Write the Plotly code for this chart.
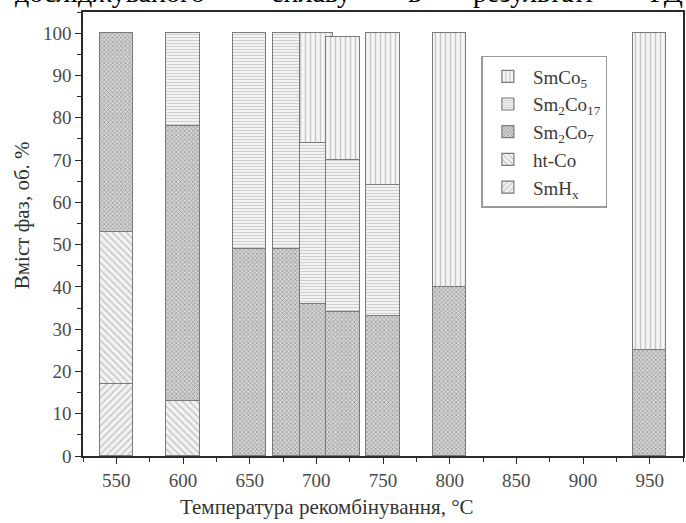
import plotly.graph_objects as go

# Recombination temperature of each sample, °C (bar positions)
temperatures = [550, 600, 650, 680, 700, 720, 750, 800, 950]

# Phase content, vol. % (None = phase absent)
smhx    = [17, None, None, None, None, None, None, None, None]
ht_co   = [36, 13, None, None, None, None, None, None, None]
sm2co7  = [47, 65, 49, 49, 36, 34, 33, 40, 25]
sm2co17 = [None, 22, 51, 51, 38, 36, 31, None, None]
smco5   = [None, None, None, None, 26, 29, 36, 60, 75]

phase_names = ["SmH<sub>x</sub>", "ht-Co", "Sm<sub>2</sub>Co<sub>7</sub>",
               "Sm<sub>2</sub>Co<sub>17</sub>", "SmCo<sub>5</sub>"]
phase_values = [smhx, ht_co, sm2co7, sm2co17, smco5]

# hatch style per phase: (shape, fg colour, bg colour, tile size, solidity)
hatches = [
    ("/", "#8a8a8a", "#f2f2f2", 5, 0.25),
    ("\\", "#8a8a8a", "#f2f2f2", 5, 0.25),
    ("x", "#6a6a6a", "#d4d4d4", 3, 0.45),
    ("-", "#aaaaaa", "#f2f2f2", 3, 0.35),
    ("|", "#9a9a9a", "#f6f6f6", 5, 0.3),
]

x_title = "Температура рекомбінування, °C"
y_title = "Вміст фаз, об. %"

# words of the body text running above the figure
header_words = ["досліджуваного", "сплаву", "в", "результаті", "ГД"]
header_px = [110, 312, 416, 535, 668]

SERIF = "Liberation Serif"
L, R, T, B, W, H = 83, 1, 12, 67, 686, 523
PW, PH = W - L - R, H - T - B


def paper_x(px):
    return (px - L) / PW


def paper_y(py):
    return (H - B - py) / PH


fig = go.Figure()
for name, vals, (shape, fg, bg, size, sol) in zip(phase_names, phase_values, hatches):
    fig.add_trace(go.Bar(
        x=temperatures, y=vals, name=name, width=25,
        marker=dict(
            color=bg,
            line=dict(color="#7a7a7a", width=1.2),
            pattern=dict(shape=shape, fgcolor=fg, bgcolor=bg,
                         size=size, solidity=sol),
        ),
    ))

axis_common = dict(
    showline=True, linecolor="#2a2a2a", linewidth=1.5, mirror=True,
    ticks="outside", ticklen=6, tickwidth=1.3, tickcolor="#2a2a2a",
    showgrid=False, zeroline=False,
    tickfont=dict(family=SERIF, size=19, color="#4a4a4a"),
)

fig.update_layout(
    width=W, height=H,
    margin=dict(l=L, r=R, t=T, b=B),
    paper_bgcolor="white", plot_bgcolor="white",
    barmode="stack", bargap=0,
    font=dict(family=SERIF, color="#333333"),
    xaxis=dict(
        range=[525, 975], tick0=550, dtick=50,
        minor=dict(ticks="outside", dtick=25, ticklen=4, tickcolor="#2a2a2a"),
        **axis_common,
    ),
    yaxis=dict(
        range=[0, 105], tick0=0, dtick=10,
        tickvals=list(range(0, 101, 10)),
        minor=dict(ticks="outside", dtick=5, ticklen=4, tickcolor="#2a2a2a"),
        **axis_common,
    ),
    legend=dict(
        x=0.664, y=0.901, xanchor="left", yanchor="top",
        traceorder="reversed",
        bgcolor="white", bordercolor="#9a9a9a", borderwidth=1.5,
        font=dict(family=SERIF, size=19, color="#3a3a3a"),
        itemwidth=40,
    ),
    showlegend=True,
)

# axis titles
fig.add_annotation(
    text=x_title, xref="paper", yref="paper",
    x=paper_x(328), y=paper_y(507), xanchor="center", yanchor="middle",
    showarrow=False, font=dict(family=SERIF, size=21, color="#333333"),
)
fig.add_annotation(
    text=y_title, xref="paper", yref="paper", textangle=-90,
    x=paper_x(22), y=paper_y(215), xanchor="center", yanchor="middle",
    showarrow=False, font=dict(family=SERIF, size=21, color="#333333"),
)

for word, px in zip(header_words, header_px):
    fig.add_annotation(
        text=word, xref="paper", yref="paper",
        x=paper_x(px), y=1, xanchor="center", yanchor="bottom",
        yshift=2, showarrow=False,
        font=dict(family=SERIF, size=28, color="black"),
    )

fig.write_html("out.html")
